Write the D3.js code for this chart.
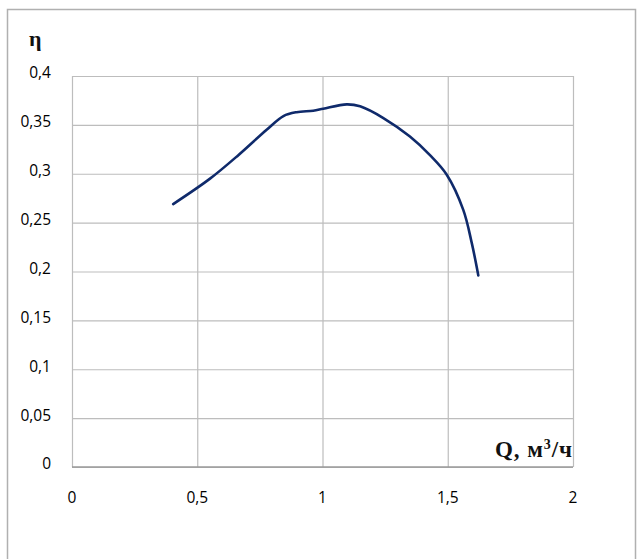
<!DOCTYPE html>
<html><head><meta charset="utf-8">
<script src="https://cdn.jsdelivr.net/npm/d3@7"></script>
<style>body{margin:0;background:#fff}svg{display:block}</style>
</head><body>
<svg id="c" width="637" height="559"></svg>
<script>
const qValues = [0.404, 0.551, 0.664, 0.777, 0.844, 0.897, 0.963, 1.003, 1.097, 1.15, 1.243, 1.349, 1.429, 1.496, 1.562, 1.596, 1.622];
const etaValues = [0.269, 0.295, 0.319, 0.345, 0.359, 0.363, 0.3645, 0.3665, 0.371, 0.369, 0.357, 0.338, 0.319, 0.299, 0.263, 0.229, 0.196];
const xTicks = [0, 0.5, 1, 1.5, 2];
const yTicks = [0, 0.05, 0.1, 0.15, 0.2, 0.25, 0.3, 0.35, 0.4];
const yLabel = "η";
const xLabel = "Q, м";
const fmt = v => String(v).replace(".", ",");

const svg = d3.select("#c");
const x = d3.scaleLinear().domain([0, 2]).range([72, 573]);
const y = d3.scaleLinear().domain([0, 0.4]).range([467, 76]);

// outer frame
svg.append("path").attr("d", "M7.5,559 V9.5 H635.5 V559")
  .attr("fill", "none").attr("stroke", "#b0b0b0").attr("stroke-width", 1.5);

// gridlines
svg.append("g").attr("transform", "translate(0,467)")
  .call(d3.axisBottom(x).tickValues(xTicks).tickSize(-(467 - 76)).tickFormat(""))
  .call(g => g.select(".domain").remove())
  .call(g => g.selectAll("line").attr("stroke", "#bdbdbd").attr("stroke-width", 1.2));
svg.append("g").attr("transform", "translate(72,0)")
  .call(d3.axisLeft(y).tickValues(yTicks).tickSize(-(573 - 72)).tickFormat(""))
  .call(g => g.select(".domain").remove())
  .call(g => g.selectAll("line").attr("stroke", "#bdbdbd").attr("stroke-width", 1.2));
svg.append("line").attr("x1", 72).attr("x2", 573).attr("y1", 467).attr("y2", 467)
  .attr("stroke", "#9a9a9a").attr("stroke-width", 1.3);

// tick labels
svg.append("g").selectAll("text").data(yTicks).join("text")
  .attr("x", 51).attr("y", d => y(d) - 3).attr("dy", "0.35em")
  .attr("text-anchor", "end").attr("font-family", "Open Sans, Liberation Sans")
  .attr("font-size", 15.5).attr("fill", "#000")
  .text(fmt);
svg.append("g").selectAll("text").data(xTicks).join("text")
  .attr("x", d => x(d)).attr("y", 498).attr("dy", "0.35em")
  .attr("text-anchor", "middle").attr("font-family", "Open Sans, Liberation Sans")
  .attr("font-size", 15.5).attr("fill", "#000")
  .text(fmt);

// axis titles
svg.append("text").attr("x", 29).attr("y", 46).attr("font-family", "Liberation Serif")
  .attr("font-weight", "bold").attr("font-size", 22).attr("fill", "#111").text(yLabel);
const ql = svg.append("text").attr("x", 495).attr("y", 457).attr("font-family", "Liberation Serif")
  .attr("font-weight", "bold").attr("font-size", 23).attr("fill", "#111")
  .attr("textLength", 77).attr("lengthAdjust", "spacing");
ql.append("tspan").text(xLabel);
ql.append("tspan").attr("dy", -8).attr("font-size", 14).text("3");
ql.append("tspan").attr("dy", 8).text("/ч");

// curve
const pts = qValues.map((q, i) => [q, etaValues[i]]);
svg.append("path").datum(pts)
  .attr("fill", "none").attr("stroke", "#0f2a6b").attr("stroke-width", 2.6)
  .attr("stroke-linecap", "round")
  .attr("d", d3.line().x(d => x(d[0])).y(d => y(d[1])).curve(d3.curveCatmullRom.alpha(0.5)));
</script>
</body></html>
